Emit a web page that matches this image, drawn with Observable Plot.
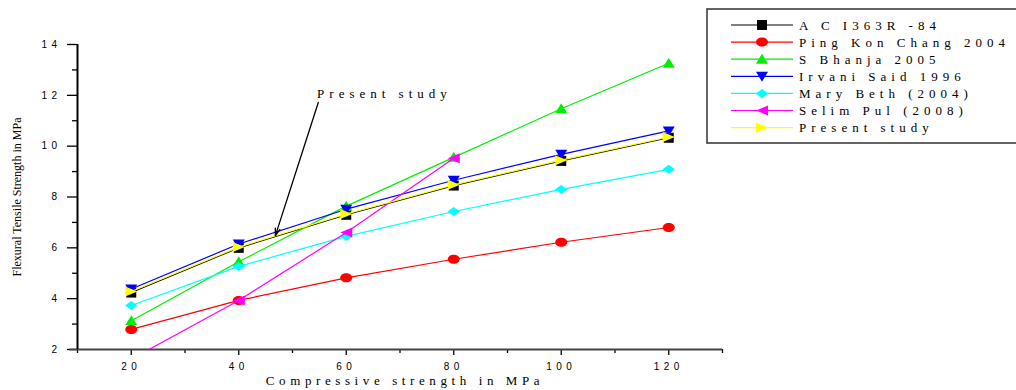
<!DOCTYPE html>
<html><head><meta charset="utf-8">
<script src="https://cdn.jsdelivr.net/npm/d3@7"></script>
<script src="https://cdn.jsdelivr.net/npm/@observablehq/plot@0.6"></script>
<style>
body{margin:0;background:#fff;}
#wrap{position:relative;width:1016px;height:390px;overflow:hidden;background:#fff;}
#legend{position:absolute;left:0;top:0;}
</style>
</head><body>
<div id="wrap"><div id="chart"></div><svg id="legend" width="1016" height="150"></svg></div>
<script>
// ---- data ----
const strength = [20, 40, 60, 80, 100, 120];            // Compressive strength (MPa)
const aci363      = [4.24, 6.00, 7.30, 8.45, 9.42, 10.33];
const pingKonChang= [2.79, 3.93, 4.82, 5.55, 6.22, 6.80];
const bhanja      = [3.13, 5.45, 7.64, 9.56, 11.47, 13.26];
const irvaniSaid  = [4.38, 6.15, 7.52, 8.66, 9.68, 10.60];
const maryBeth    = [3.73, 5.27, 6.45, 7.43, 8.30, 9.09];
const selimPul    = [1.62, 3.93, 6.60, 9.52, null, null];
const presentStudy= [4.28, 6.03, 7.33, 8.48, 9.45, 10.36];

const seriesNames = ["A C I363R -84", "Ping Kon Chang 2004", "S Bhanja 2005", "Irvani Said 1996",
                     "Mary Beth (2004)", "Selim Pul (2008)", "Present study"];
const seriesValues = [aci363, pingKonChang, bhanja, irvaniSaid, maryBeth, selimPul, presentStudy];
const seriesColors = ["#000000", "#ff0000", "#00ee00", "#0000ff", "#00ffff", "#ff00ff", "#ffff00"];
const seriesSymbols = ["square", "ellipse", "up", "down", "diamond", "left", "right"];

const yMajorTicks = [2, 4, 6, 8, 10, 12, 14];
const yMinorTicks = [3, 5, 7, 9, 11, 13];
const xMajorTicks = [20, 40, 60, 80, 100, 120];
const xMinorTicks = [10, 30, 50, 70, 90, 110, 130];

const xTitle = "Compressive strength in MPa";
const yTitle = "Flexural Tensile Strength in MPa";
const annotation = [{text: "Present study", x: 67.1, y: 12.04, x1: 54.8, y1: 11.72, x2: 46.8, y2: 6.47}];

// ---- symbols ----
function poly(pts){return {draw(ctx, size){const r = Math.sqrt(size/Math.PI);
  pts.forEach(([a,b],i)=> i ? ctx.lineTo(a*r,b*r) : ctx.moveTo(a*r,b*r)); ctx.closePath();}};}
const symbolDefs = {
  square: poly([[-1,-1],[1,-1],[1,1],[-1,1]]),
  ellipse: {draw(ctx,size){const r=Math.sqrt(size/Math.PI); const rx=1.2*r, ry=0.9*r, k=0.5523;
    ctx.moveTo(rx,0); ctx.bezierCurveTo(rx,ry*k,rx*k,ry,0,ry); ctx.bezierCurveTo(-rx*k,ry,-rx,ry*k,-rx,0);
    ctx.bezierCurveTo(-rx,-ry*k,-rx*k,-ry,0,-ry); ctx.bezierCurveTo(rx*k,-ry,rx,-ry*k,rx,0); ctx.closePath();}},
  up: poly([[0,-1.1],[1.2,0.9],[-1.2,0.9]]),
  down: poly([[0,1.1],[1.2,-0.9],[-1.2,-0.9]]),
  diamond: poly([[0,-0.9],[1.25,0],[0,0.9],[-1.25,0]]),
  left: poly([[-1.2,0],[1.2,-1],[1.2,1]]),
  right: poly([[1.2,0],[-1.2,-1],[-1.2,1]])
};

const marks = [];
seriesValues.forEach((vals, i) => {
  const pts = strength.map((x, j) => ({x, y: vals[j]})).filter(d => d.y != null);
  marks.push(Plot.line(pts, {x: "x", y: "y", stroke: seriesColors[i], strokeWidth: 1.2, clip: true}));
  marks.push(Plot.dot(pts, {x: "x", y: "y", r: 5, fill: seriesColors[i], symbol: symbolDefs[seriesSymbols[i]], clip: true}));
});

const chart = Plot.plot({
  width: 1016, height: 390,
  marginLeft: 77, marginRight: 294, marginTop: 44, marginBottom: 41,
  x: {domain: [10, 130]},
  y: {domain: [2, 14]},
  style: {fontFamily: "'Liberation Sans', Arial, sans-serif", background: "#fff", color: "#000"},
  marks: [
    Plot.axisY({ticks: yMajorTicks, tickSize: 10, tickPadding: 6, fontSize: 10, label: null, strokeWidth: 1.3}),
    Plot.axisY({ticks: yMinorTicks, tickSize: 5, text: null, label: null, strokeWidth: 1.3}),
    Plot.axisX({ticks: xMajorTicks, tickSize: 6, tickPadding: 7, fontSize: 10, label: null, strokeWidth: 1.3}),
    Plot.axisX({ticks: xMinorTicks, tickSize: 4, text: null, label: null, strokeWidth: 1.3}),
    Plot.ruleY([2], {x1: 8.6, x2: 130, stroke: "#444", strokeWidth: 2}),
    Plot.ruleX([10], {y1: 2, y2: 14, stroke: "#000", strokeWidth: 2}),
    ...marks,
    Plot.arrow(annotation, {x1: "x1", y1: "y1", x2: "x2", y2: "y2", stroke: "#000", strokeWidth: 1.3, headLength: 9, headAngle: 35}),
    Plot.text(annotation, {x: "x", y: "y", text: "text", fontFamily: "'Liberation Serif', 'Times New Roman', serif", fontSize: 13, fill: "#000"}),
    Plot.text([xTitle], {frameAnchor: "bottom", dy: 35, dx: 5, fontFamily: "'Liberation Serif', 'Times New Roman', serif", fontSize: 13, fill: "#000"}),
    Plot.text([yTitle], {frameAnchor: "left", dx: -60, rotate: -90, textAnchor: "middle", fontFamily: "'Liberation Serif', 'Times New Roman', serif", fontSize: 12, fill: "#000"})
  ]
});
document.getElementById("chart").appendChild(chart);

// letter spacing of the spaced-out texts
d3.select(chart).selectAll("text").each(function(){
  const t = this.textContent;
  if (/^\d+$/.test(t)) d3.select(this).style("letter-spacing", "4.5px");
  else if (t === xTitle) d3.select(this).style("letter-spacing", "4.6px");
  else if (t !== yTitle) d3.select(this).style("letter-spacing", "5px");
});

// ---- legend ----
const lg = d3.select("#legend");
lg.append("rect").attr("x", 707).attr("y", 9).attr("width", 340).attr("height", 134)
  .attr("fill", "#fff").attr("stroke", "#333").attr("stroke-width", 1.5);
seriesNames.forEach((name, i) => {
  const cy = 25 + i * 17.1;
  lg.append("line").attr("x1", 731).attr("x2", 793).attr("y1", cy).attr("y2", cy)
    .attr("stroke", seriesColors[i]).attr("stroke-width", 1.2);
  lg.append("path").attr("transform", `translate(762,${cy})`).attr("fill", seriesColors[i])
    .attr("d", d3.symbol(symbolDefs[seriesSymbols[i]], 25 * Math.PI)());
  lg.append("text").attr("x", 799).attr("y", cy).attr("dy", "0.35em")
    .attr("font-family", "'Liberation Serif', 'Times New Roman', serif").attr("font-size", 13)
    .attr("letter-spacing", "5px").text(name);
});
</script>
</body></html>
